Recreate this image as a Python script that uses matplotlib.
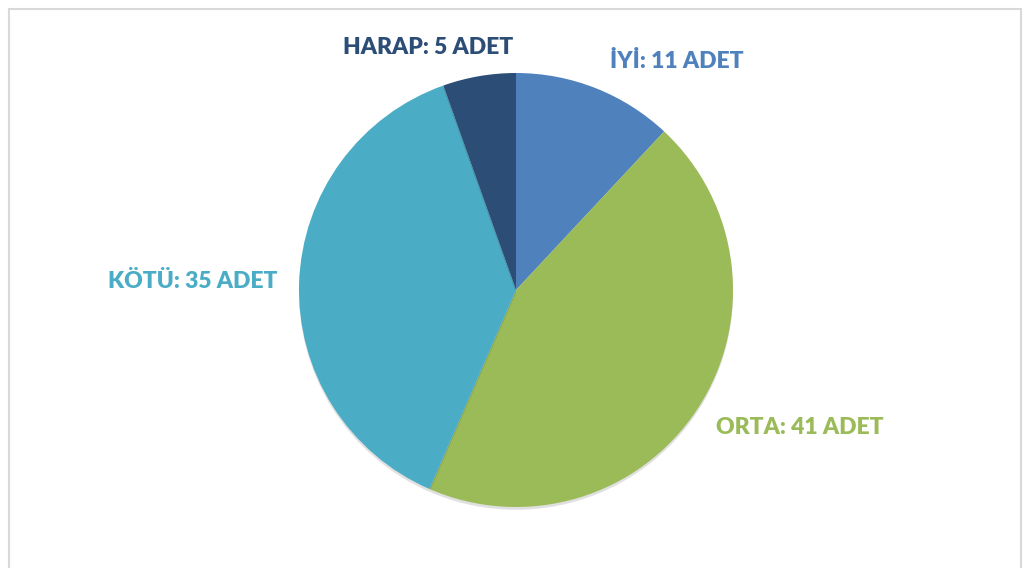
import matplotlib
matplotlib.use("Agg")
import matplotlib.pyplot as plt
from matplotlib.patches import Rectangle
import matplotlib.patheffects as pe

# pie data
labels = ["İYİ", "ORTA", "KÖTÜ", "HARAP"]
counts = [11, 41, 35, 5]
colors = ["#4F81BD", "#9BBB59", "#4BACC6", "#2C4D75"]

# label anchor points (pixel coords, y from top)
label_pos = [(677, 61), (800, 428), (193, 282), (428, 47)]

W, H = 1024, 568
fig = plt.figure(figsize=(W / 100, H / 100), dpi=100)
ax = fig.add_axes([0, 0, 1, 1])

# chart frame
ax.add_patch(Rectangle((9, -10), 1012, H - 9 + 10, fill=False,
                       edgecolor="#D9D9D9", linewidth=1.5))

wedges, _ = ax.pie(counts, colors=colors, startangle=90, counterclock=False,
                   center=(516, H - 290), radius=217, frame=True,
                   wedgeprops=dict(linewidth=0))
for w in wedges:
    w.set_path_effects([pe.SimplePatchShadow(offset=(0, -2), shadow_rgbFace="k",
                                             alpha=0.12), pe.Normal()])
ax.set_xlim(0, W)
ax.set_ylim(0, H)
ax.axis("off")

for lab, n, c, (x, y) in zip(labels, counts, colors, label_pos):
    ax.text(x, H - y, f"{lab}: {n} ADET", color=c, fontsize=16.5,
            fontweight="heavy", family=["Lato", "DejaVu Sans"],
            ha="center", va="center")

fig.savefig("out.png", dpi=100)
